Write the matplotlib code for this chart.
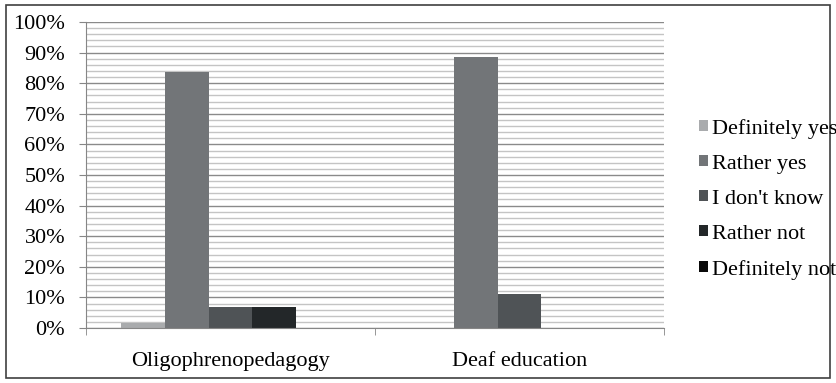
import matplotlib
matplotlib.use("Agg")
import matplotlib.pyplot as plt
import numpy as np
from matplotlib.patches import Rectangle, Patch
from matplotlib.ticker import MultipleLocator, FixedLocator, PercentFormatter

categories = ["Oligophrenopedagogy", "Deaf education"]
answers = ["Definitely yes", "Rather yes", "I don't know", "Rather not", "Definitely not"]
oligo = [1.7, 83.8, 7.0, 7.0, 0.0]
deaf = [0.0, 88.7, 11.0, 0.0, 0.0]
colors = ["#a9abad", "#727578", "#4f5356", "#232729", "#0a0a0a"]

plt.rcParams["font.family"] = "serif"
plt.rcParams["font.serif"] = ["Liberation Serif", "DejaVu Serif"]
fs = 16
W, H = 836, 383
fig = plt.figure(figsize=(W / 100, H / 100), dpi=100)
ax = fig.add_axes([86 / W, (H - 328) / H, (664 - 86) / W, (328 - 22) / H])

values = np.array([oligo, deaf])
x = np.arange(len(categories))
bw = 0.152
for i, name in enumerate(answers):
    offset = (i - 2) * bw
    ax.bar(x + offset, values[:, i], width=bw, color=colors[i], label=name, zorder=3)

ax.set_xlim(-0.5, 1.5)
ax.set_ylim(0, 100)
ax.yaxis.set_major_locator(MultipleLocator(10))
ax.yaxis.set_minor_locator(MultipleLocator(2))
ax.yaxis.set_major_formatter(PercentFormatter(decimals=0))
ax.grid(axis="y", which="major", color="#8a8a8a", linewidth=1.0, zorder=0)
ax.grid(axis="y", which="minor", color="#c4c4c4", linewidth=1.0, zorder=0)

ax.set_xticks(x)
ax.set_xticklabels(categories)
ax.xaxis.set_minor_locator(FixedLocator([-0.5, 0.5, 1.5]))
ax.tick_params(axis="x", which="major", length=0, pad=17, labelsize=fs)
ax.tick_params(axis="x", which="minor", length=5, color="#868686")
ax.tick_params(axis="y", which="major", length=5, color="#868686", pad=10, labelsize=fs)
ax.tick_params(axis="y", which="minor", length=0)

for s in ["top", "right"]:
    ax.spines[s].set_visible(False)
for s in ["left", "bottom"]:
    ax.spines[s].set_color("#868686")
    ax.spines[s].set_zorder(4)

handles = [Patch(facecolor=c) for c in colors]
fig.legend(handles, answers, loc="upper left", bbox_to_anchor=(690 / W, (H - 110) / H),
           frameon=False, fontsize=fs, handlelength=0.4, handleheight=0.4,
           handletextpad=0.2, labelspacing=0.72, borderaxespad=0)

fig.patches.append(Rectangle((6 / W, 5 / H), (830 - 6) / W, (378 - 5) / H,
                             transform=fig.transFigure, fill=False,
                             edgecolor="#404040", linewidth=1.2))

fig.savefig("out.png", dpi=100)
